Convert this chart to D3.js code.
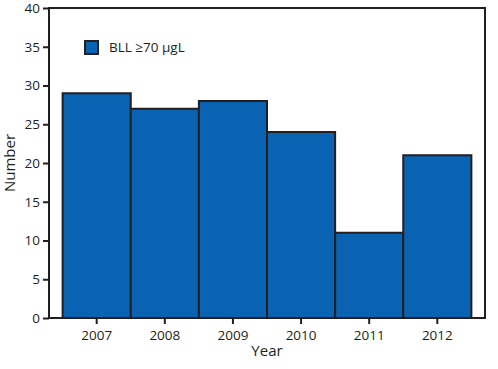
<!DOCTYPE html>
<html><head><meta charset="utf-8">
<script src="https://cdn.jsdelivr.net/npm/d3@7"></script>
<style>body{margin:0;background:#fff}text{font-family:"Open Sans","Noto Sans",sans-serif;fill:#231f20}</style>
</head><body><svg id="c" width="498" height="369"></svg>
<script>
const years = ["2007","2008","2009","2010","2011","2012"];
const counts = [29, 27, 28, 24, 11, 21];
const yTicks = [0,5,10,15,20,25,30,35,40];
const legendLabel = "BLL \u226570 \u00b5gL";

const svg = d3.select("#c");
const L = 49, R = 485, T = 8, B = 318;
const x = d3.scaleBand().domain(years).range([L, R]).paddingInner(0).paddingOuter(0.2);
const y = d3.scaleLinear().domain([0, 40]).range([B, T]);
const ink = "#231f20", fill = "#0a62b2";

svg.append("g").selectAll("rect").data(counts).join("rect")
  .attr("x", (d,i) => x(years[i])).attr("width", x.bandwidth())
  .attr("y", d => y(d)).attr("height", d => y(0) - y(d))
  .attr("fill", fill).attr("stroke", ink).attr("stroke-width", 2);

svg.append("rect").attr("x", L).attr("y", T).attr("width", R-L).attr("height", B-T)
  .attr("fill", "none").attr("stroke", ink).attr("stroke-width", 2);

const ya = svg.append("g").attr("transform", `translate(${L},0)`)
  .call(d3.axisLeft(y).tickValues(yTicks).tickSize(6).tickPadding(3));
ya.select(".domain").remove();
ya.selectAll("line").attr("stroke", ink).attr("stroke-width", 2);
ya.selectAll("text").attr("font-size", 13.5).attr("fill", ink);

const xa = svg.append("g").attr("transform", `translate(0,${B})`)
  .call(d3.axisBottom(x).tickSize(6).tickPadding(6));
xa.select(".domain").remove();
xa.selectAll("line").attr("stroke", ink).attr("stroke-width", 2);
xa.selectAll("text").attr("font-size", 13.5).attr("fill", ink);

svg.append("text").attr("x", (L+R)/2).attr("y", 356).attr("text-anchor","middle")
  .attr("font-size", 15).text("Year");
svg.append("text").attr("transform", `translate(15,${(T+B)/2}) rotate(-90)`)
  .attr("text-anchor","middle").attr("font-size", 15).text("Number");

const lg = svg.append("g");
lg.append("rect").attr("x", 85).attr("y", 41).attr("width", 13).attr("height", 13)
  .attr("fill", fill).attr("stroke", ink).attr("stroke-width", 2);
lg.append("text").attr("x", 109).attr("y", 52).attr("font-size", 13.5).text(legendLabel);
</script></body></html>
